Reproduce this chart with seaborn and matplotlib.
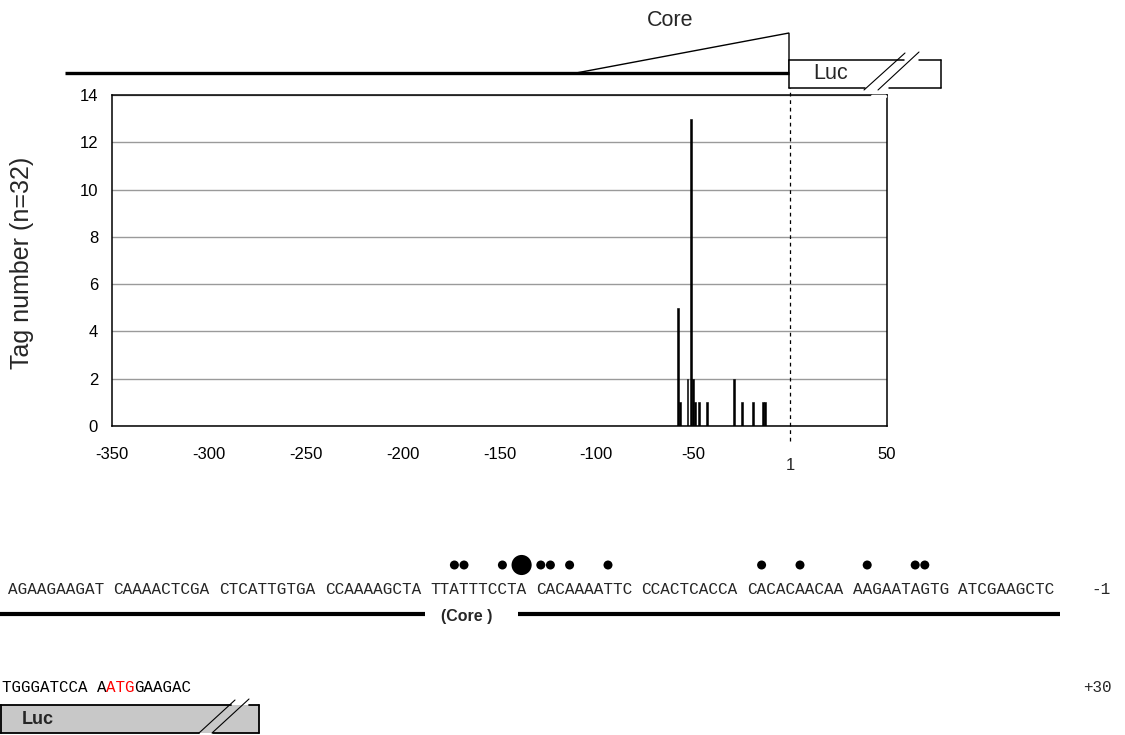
import matplotlib
matplotlib.use("Agg")
import matplotlib.pyplot as plt
import seaborn as sns
import pandas as pd
from matplotlib.patches import Rectangle, Polygon

# ---------------- data ----------------
positions = [-58, -57, -53, -51, -50, -49, -47, -43, -29, -25, -19, -14, -13]
tag_counts = [5, 1, 2, 13, 2, 1, 1, 1, 2, 1, 1, 1, 1]
x_ticks = [-350, -300, -250, -200, -150, -100, -50, 50]
y_ticks = [0, 2, 4, 6, 8, 10, 12, 14]
seq_groups = ["AGAAGAAGAT", "CAAAACTCGA", "CTCATTGTGA", "CCAAAAGCTA", "TTATTTCCTA",
              "CACAAAATTC", "CCACTCACCA", "CACACAACAA", "AAGAATAGTG", "ATCGAAGCTC"]
seq_start = -100
seq_end_label = "-1"
seq2_parts = ["TGGGATCCA A", "ATG", "GAAGAC"]
seq2_colors = ["black", "red", "black"]
seq2_end_label = "+30"
ylabel = "Tag number (n=32)"

W, H = 1125, 735
sns.set_theme(style="white")
plt.rcParams['font.family'] = ['Liberation Sans', 'DejaVu Sans']
fig = plt.figure(figsize=(W / 100, H / 100), dpi=100)

# ---------------- bar chart ----------------
ax = fig.add_axes([112 / W, 1 - 426 / H, 775 / W, 331 / H])
df = pd.DataFrame({"pos": positions, "count": tag_counts})
sns.barplot(data=df, x="pos", y="count", native_scale=True, color="black",
            width=0.9, errorbar=None, linewidth=0.4, edgecolor="black",
            saturation=1, ax=ax)
ax.set_xlim(-350, 50)
ax.set_ylim(0, 14)
ax.set_xticks(x_ticks)
ax.set_xticklabels([str(t) for t in x_ticks])
ax.set_yticks(y_ticks)
ax.set_xlabel("")
ax.set_ylabel("")
ax.yaxis.grid(True, color="#9a9a9a", lw=1.0)
ax.xaxis.grid(False)
ax.set_axisbelow(True)
for s in ax.spines.values():
    s.set_visible(True)
    s.set_color("black")
    s.set_linewidth(1.1)
ax.tick_params(axis="x", length=0, labelsize=12, pad=15, colors="black")
ax.tick_params(axis="y", length=0, labelsize=12, pad=10, colors="black")
ax.axvline(0, ymin=-0.045, ymax=1.021, color="black", lw=0.9, ls=(0, (3, 3)),
           clip_on=False)
ax.text(0, -0.118, "1", transform=ax.get_xaxis_transform(), ha="center",
        va="center", fontsize=12)

fig.text(22 / W, 1 - 263 / H, ylabel, rotation=90, ha="center", va="center",
         fontsize=18)

# ---------------- overlay (pixel coordinates) ----------------
ov = fig.add_axes([0, 0, 1, 1])
ov.set_xlim(0, W)
ov.set_ylim(H, 0)
ov.axis("off")
ov.patch.set_visible(False)

# top construct diagram
ov.plot([65, 789], [73, 73], color="black", lw=2.4, solid_capstyle="butt")
ov.add_patch(Polygon([[576, 73], [789, 33], [789, 73]], closed=True,
                     fill=False, edgecolor="black", lw=1.0))
ov.text(670, 20, "Core", ha="center", va="center", fontsize=15.5)
ov.add_patch(Rectangle((789, 60), 152, 28, facecolor="white", edgecolor="none"))
for xs, ys in [([789, 904], [60, 60]), ([919, 941], [60, 60]),
               ([789, 865], [88, 88]), ([889, 941], [88, 88]),
               ([789, 789], [60, 88]), ([941, 941], [60, 88])]:
    ov.plot(xs, ys, color="black", lw=1.1)
ov.plot([872, 885], [95.5, 95.5], color="white", lw=2.5)
ov.plot([864, 905], [90, 53], color="black", lw=0.8)
ov.plot([878, 919], [90, 52], color="black", lw=0.8)
ov.text(831, 73, "Luc", ha="center", va="center", fontsize=15.5)

# sequence line
cw = 9.6
x0 = 8
mono = "Liberation Mono"
for k, g in enumerate(seq_groups):
    ov.text(x0 + k * 11 * cw, 590, g, ha="left", va="center",
            fontfamily=mono, fontsize=11.5)
ov.text(1111, 590, seq_end_label, ha="right", va="center", fontfamily=mono,
        fontsize=11.5)

# dots above the sequence, one per tag site
dot_x, dot_s = [], []
for p, c in zip(positions, tag_counts):
    n = p - seq_start
    col = (n // 10) * 11 + (n % 10)
    dot_x.append(x0 + (col + 0.5) * cw)
    dot_s.append(210 if c > 5 else 42)
sns.scatterplot(x=dot_x, y=[565] * len(dot_x), size=dot_s, sizes=(42, 210),
                color="black", edgecolor="none", legend=False, ax=ov)
ov.set_xlim(0, W)
ov.set_ylim(H, 0)
ov.axis("off")

ov.plot([0, 425], [614, 614], color="black", lw=3, solid_capstyle="butt")
ov.plot([518, 1060], [614, 614], color="black", lw=3, solid_capstyle="butt")
ov.text(467, 617, "(Core )", ha="center", va="center", fontsize=11.5,
        fontweight="bold")

# second sequence line
cw2 = 9.5
xs2 = 1.5
off = 0
for part, colr in zip(seq2_parts, seq2_colors):
    ov.text(xs2 + off * cw2, 688, part, ha="left", va="center", color=colr,
            fontfamily=mono, fontsize=11.4)
    off += len(part)
ov.text(1112, 688, seq2_end_label, ha="right", va="center", fontfamily=mono,
        fontsize=11.4)

# bottom Luc box
ov.add_patch(Rectangle((0, 705), 259, 28, facecolor="#c8c8c8", edgecolor="none"))
for xs, ys in [([0, 231], [705, 705]), ([249, 259], [705, 705]),
               ([0, 199], [733, 733]), ([213, 259], [733, 733]),
               ([259, 259], [705, 733]), ([0.5, 0.5], [705, 733])]:
    ov.plot(xs, ys, color="black", lw=1.3)
ov.plot([199, 235], [733, 700], color="black", lw=0.8)
ov.plot([212, 249], [733, 699], color="black", lw=0.8)
ov.text(22, 719, "Luc", ha="left", va="center", fontsize=13, fontweight="bold")

fig.savefig("out.png", dpi=100)
